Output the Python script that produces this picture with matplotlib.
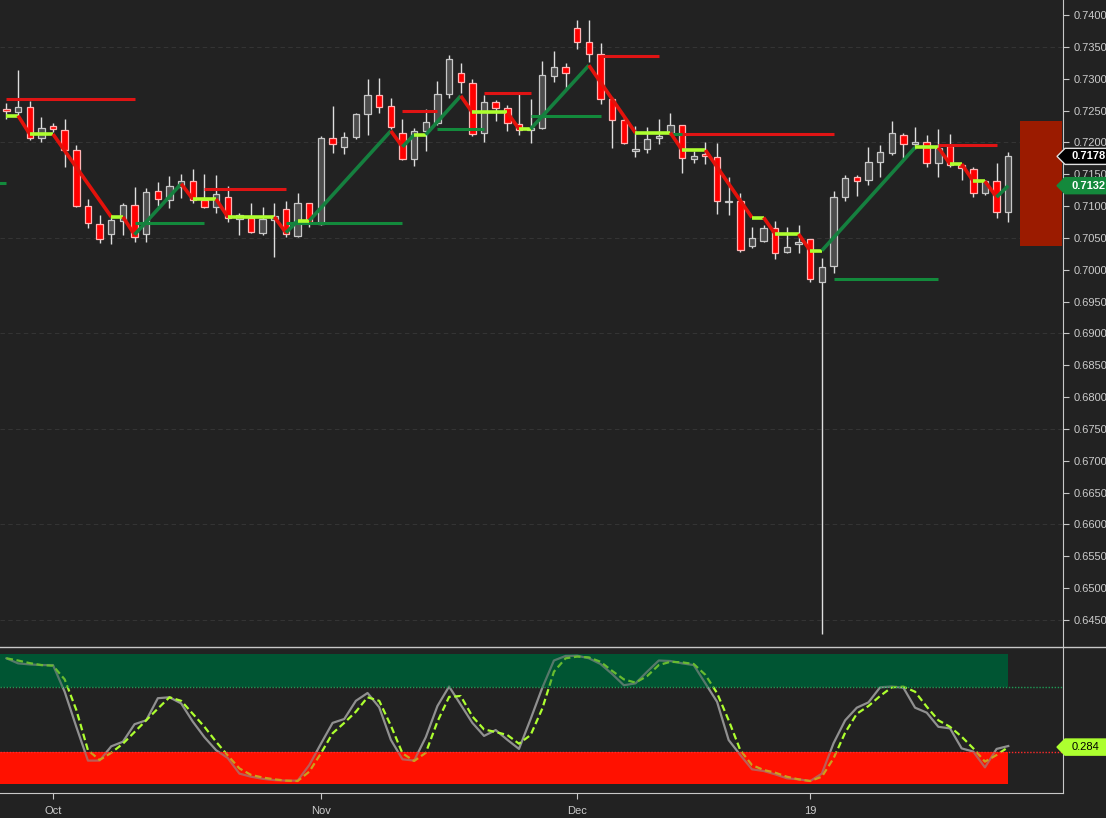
"""
Daily candles with swing levels and a stochastic pane, dark theme.
"""

import matplotlib
matplotlib.use("Agg")
import matplotlib.pyplot as plt
from matplotlib.lines import Line2D
from matplotlib.patches import Polygon, Rectangle

plt.rcParams["font.family"] = ["Liberation Sans", "DejaVu Sans"]

# trading-day index, 0 = first bar of October
bar_index = list(range(-4, 83))

opens = [
    0.7253, 0.7248, 0.7256, 0.7207,
    0.7226, 0.7220, 0.7188, 0.7100, 0.7072, 0.7056, 0.7077, 0.7102, 0.7056, 0.7124,
    0.7110, 0.7130, 0.7140, 0.7110, 0.7099, 0.7114, 0.7080, 0.7081, 0.7058, 0.7078,
    0.7096, 0.7053, 0.7105, 0.7072, 0.7207, 0.7193, 0.7209, 0.7245, 0.7275, 0.7257,
    0.7215, 0.7174, 0.7218, 0.7231, 0.7276, 0.7309, 0.7293, 0.7215, 0.7264, 0.7254,
    0.7229, 0.7220, 0.7223, 0.7304, 0.7318, 0.7380, 0.7358, 0.7339, 0.7268, 0.7235,
    0.7187, 0.7190, 0.7207, 0.7215, 0.7227, 0.7174, 0.7182, 0.7177, 0.7107, 0.7108,
    0.7038, 0.7045, 0.7066, 0.7028, 0.7041, 0.7049, 0.6981, 0.7006, 0.7114, 0.7146,
    0.7141, 0.7169, 0.7183, 0.7212, 0.7198, 0.7201, 0.7168, 0.7194, 0.7165, 0.7158,
    0.7121, 0.7139, 0.7091,
]
highs = [
    0.7262, 0.7314, 0.7265, 0.7240,
    0.7231, 0.7237, 0.7196, 0.7111, 0.7086, 0.7086, 0.7105, 0.7130, 0.7129, 0.7138,
    0.7147, 0.7150, 0.7158, 0.7150, 0.7149, 0.7132, 0.7089, 0.7105, 0.7099, 0.7105,
    0.7108, 0.7121, 0.7105, 0.7210, 0.7257, 0.7216, 0.7246, 0.7300, 0.7301, 0.7270,
    0.7237, 0.7223, 0.7253, 0.7296, 0.7337, 0.7325, 0.7300, 0.7275, 0.7267, 0.7259,
    0.7276, 0.7268, 0.7328, 0.7344, 0.7325, 0.7392, 0.7392, 0.7356, 0.7271, 0.7240,
    0.7226, 0.7224, 0.7237, 0.7246, 0.7227, 0.7187, 0.7201, 0.7199, 0.7146, 0.7121,
    0.7067, 0.7071, 0.7077, 0.7067, 0.7071, 0.7049, 0.7019, 0.7124, 0.7149, 0.7149,
    0.7193, 0.7196, 0.7234, 0.7215, 0.7224, 0.7212, 0.7221, 0.7213, 0.7166, 0.7162,
    0.7141, 0.7168, 0.7185,
]
lows = [
    0.7237, 0.7242, 0.7204, 0.7201,
    0.7216, 0.7162, 0.7099, 0.7066, 0.7042, 0.7041, 0.7055, 0.7044, 0.7044, 0.7100,
    0.7097, 0.7113, 0.7105, 0.7097, 0.7089, 0.7075, 0.7055, 0.7058, 0.7055, 0.7020,
    0.7052, 0.7052, 0.7067, 0.7071, 0.7183, 0.7182, 0.7205, 0.7212, 0.7246, 0.7221,
    0.7172, 0.7163, 0.7187, 0.7227, 0.7270, 0.7278, 0.7210, 0.7201, 0.7234, 0.7218,
    0.7212, 0.7199, 0.7221, 0.7295, 0.7284, 0.7347, 0.7326, 0.7260, 0.7191, 0.7198,
    0.7177, 0.7183, 0.7198, 0.7212, 0.7152, 0.7168, 0.7166, 0.7088, 0.7086, 0.7028,
    0.7034, 0.7044, 0.7017, 0.7027, 0.7027, 0.6981, 0.6428, 0.6995, 0.7108, 0.7116,
    0.7133, 0.7146, 0.7180, 0.7176, 0.7190, 0.7162, 0.7146, 0.7162, 0.7141, 0.7114,
    0.7118, 0.7081, 0.7075,
]
closes = [
    0.7249, 0.7256, 0.7207, 0.7223,
    0.7221, 0.7188, 0.7100, 0.7074, 0.7049, 0.7078, 0.7102, 0.7052, 0.7122, 0.7111,
    0.7132, 0.7140, 0.7110, 0.7099, 0.7119, 0.7081, 0.7086, 0.7060, 0.7080, 0.7085,
    0.7056, 0.7105, 0.7074, 0.7207, 0.7198, 0.7209, 0.7245, 0.7275, 0.7256, 0.7224,
    0.7174, 0.7218, 0.7232, 0.7276, 0.7331, 0.7295, 0.7213, 0.7264, 0.7254, 0.7231,
    0.7220, 0.7223, 0.7306, 0.7318, 0.7309, 0.7358, 0.7339, 0.7268, 0.7235, 0.7199,
    0.7190, 0.7205, 0.7210, 0.7227, 0.7176, 0.7179, 0.7179, 0.7108, 0.7108, 0.7031,
    0.7050, 0.7066, 0.7027, 0.7036, 0.7044, 0.6986, 0.7005, 0.7114, 0.7144, 0.7140,
    0.7169, 0.7185, 0.7215, 0.7198, 0.7201, 0.7168, 0.7191, 0.7165, 0.7160, 0.7121,
    0.7139, 0.7091, 0.7178,
]

# swing trend line: turning points (bar index, level)
trend_index = [-4, -3, -2, 0, 5, 6, 7, 11, 12, 14, 15, 19, 20, 21, 22, 29, 30, 31, 32,
               35, 36, 39, 40, 41, 46, 50, 53, 54, 56, 60, 61, 62, 64, 65, 66, 74, 76,
               77, 78, 79, 80, 81, 82]
trend_level = [0.7242, 0.7242, 0.7213, 0.7213, 0.7083, 0.7083, 0.7055, 0.7135, 0.7111,
               0.7111, 0.7083, 0.7083, 0.7058, 0.7077, 0.7077, 0.7218, 0.7193, 0.7212,
               0.7212, 0.7273, 0.7247, 0.7247, 0.7221, 0.7221, 0.7321, 0.7215, 0.7215,
               0.7188, 0.7188, 0.7082, 0.7082, 0.7056, 0.7056, 0.7030, 0.7030, 0.7192,
               0.7192, 0.7166, 0.7166, 0.7139, 0.7139, 0.7114, 0.7132]

# resistance / support segments: (from bar, to bar, level)
resistance = [(-4, 7, 0.7268), (13, 20, 0.7126), (30, 33, 0.7249), (37, 41, 0.7278),
              (47, 52, 0.7336), (54, 67, 0.7213), (76, 81, 0.7196)]
support = [(-6, -4, 0.7136), (7, 13, 0.7074), (20, 30, 0.7074), (33, 37, 0.7221),
           (41, 47, 0.7241), (53, 54, 0.7213), (67, 76, 0.6986)]

# projected range box on the right
box_from, box_low, box_high = 83.0, 0.7037, 0.7234

# stochastic pane
stoch_k = [0.967, 0.928, 0.92, 0.915,
           0.915, 0.71, 0.44, 0.18, 0.18, 0.29, 0.325, 0.46, 0.49, 0.66,
           0.667, 0.62, 0.48, 0.36, 0.26, 0.2, 0.08, 0.056, 0.04, 0.03,
           0.026, 0.026, 0.146, 0.31, 0.47, 0.5, 0.64, 0.70, 0.59, 0.34,
           0.19, 0.18, 0.36, 0.6, 0.75, 0.61, 0.47, 0.37, 0.415, 0.34,
           0.27, 0.5, 0.74, 0.95, 0.985, 0.987, 0.967, 0.923, 0.846, 0.76,
           0.774, 0.864, 0.95, 0.946, 0.928, 0.915, 0.774, 0.633, 0.338, 0.223,
           0.113, 0.10, 0.074, 0.044, 0.036, 0.023, 0.08, 0.313, 0.49, 0.587,
           0.628, 0.744, 0.75, 0.741, 0.587, 0.549, 0.44, 0.428, 0.274, 0.249,
           0.128, 0.27, 0.292]
stoch_d = [0.967, 0.95, 0.93, 0.915,
           0.91, 0.805, 0.57, 0.26, 0.185, 0.24, 0.31, 0.40, 0.49, 0.58,
           0.667, 0.64, 0.54, 0.44, 0.325, 0.22, 0.12, 0.07, 0.05, 0.036,
           0.026, 0.023, 0.095, 0.236, 0.39, 0.47, 0.556, 0.667, 0.64, 0.45,
           0.236, 0.177, 0.24, 0.48, 0.67, 0.677, 0.52, 0.42, 0.40, 0.377,
           0.31, 0.377, 0.58, 0.864, 0.967, 0.98, 0.974, 0.94, 0.87, 0.805,
           0.78, 0.83, 0.915, 0.94, 0.936, 0.923, 0.84, 0.70, 0.49, 0.26,
           0.146, 0.108, 0.087, 0.056, 0.036, 0.023, 0.056, 0.197, 0.395, 0.54,
           0.60, 0.677, 0.744, 0.749, 0.71, 0.595, 0.49, 0.44, 0.364, 0.274,
           0.172, 0.223, 0.284]
upper_zone, lower_zone = 0.75, 0.25

price_ticks = [round(0.645 + 0.005 * i, 4) for i in range(20)]
month_pos = [0, 23, 45, 65]
month_labels = ["Oct", "Nov", "Dec", "19"]

BG = "#222222"
FG = "#cccccc"
RED = "#e3120b"
LIME = "#adff2f"
GREEN = "#15803f"
XLIM = (-4.55, 86.7)


def price_tag(axis, value, text, face, edge, color, half, weight="normal"):
    """Draws a value tag that points at the right axis."""
    trans = axis.get_yaxis_transform()
    tip, left, right = 1057 / 1063, 1065 / 1063, 1112 / 1063
    pts = [(tip, value), (left, value + half), (right, value + half),
           (right, value - half), (left, value - half)]
    axis.add_patch(Polygon(pts, closed=True, transform=trans, facecolor=face,
                           edgecolor=edge, lw=1, clip_on=False, zorder=10))
    axis.text(1072 / 1063, value, text, transform=trans, ha="left", va="center",
              color=color, fontsize=8, fontweight=weight, clip_on=False, zorder=11)


fig = plt.figure(figsize=(11.06, 8.18), dpi=100, facecolor=BG)
ax = fig.add_axes([0, 171 / 818, 1063 / 1106, 647 / 818])
ax2 = fig.add_axes([0, 25 / 818, 1063 / 1106, 145 / 818])

for a in (ax, ax2):
    a.set_facecolor(BG)
    a.set_xlim(*XLIM)
    for side in ("left", "top", "bottom", "right"):
        a.spines[side].set_visible(False)
    a.spines["right"].set_visible(True)
    a.spines["right"].set_color("#c8c8c8")

# ---- price pane ----
ax.set_ylim(0.640754, 0.742356)
for lvl in price_ticks[::3]:
    ax.axhline(lvl, color="#343434", lw=0.8, ls=(0, (4, 3)), zorder=0)

for i, o, h, l, c in zip(bar_index, opens, highs, lows, closes):
    ax.vlines(i, l, h, color="#dedede", lw=1.0, zorder=2)
    up = c >= o
    ax.bar(i, abs(c - o), bottom=min(o, c), width=0.55,
           color="#4d4d4d" if up else "#ff0000",
           edgecolor="#c8c8c8" if up else "#ffb4b4", lw=0.9, zorder=3)

for x0, x1, lvl in resistance:
    ax.hlines(lvl, x0, x1, color="#e01414", lw=2.2, zorder=4)
for x0, x1, lvl in support:
    ax.hlines(lvl, x0, x1, color="#138a3c", lw=2.2, zorder=4)

for k in range(len(trend_index) - 1):
    v0, v1 = trend_level[k], trend_level[k + 1]
    col = LIME if v0 == v1 else (RED if v1 < v0 else GREEN)
    ax.plot(trend_index[k:k + 2], trend_level[k:k + 2], color=col, lw=2.6,
            solid_capstyle="butt", zorder=5)

ax.add_patch(Rectangle((box_from, box_low), XLIM[1] - 0.08 - box_from,
                       box_high - box_low, facecolor="#9b1b00", lw=0, zorder=2))

ax.yaxis.tick_right()
ax.set_yticks(price_ticks)
ax.set_yticklabels([f"{t:.4f}" for t in price_ticks])
ax.tick_params(axis="y", colors="#c8c8c8", labelcolor=FG, labelsize=8,
               length=4, pad=4)
ax.tick_params(axis="x", bottom=False, labelbottom=False)

price_tag(ax, closes[-1], f"{closes[-1]:.4f}", "#000000", "#e0e0e0", "#ffffff",
          0.00126, "bold")
price_tag(ax, trend_level[-1], f"{trend_level[-1]:.4f}", "#14893c", "#14893c",
          "#ffffff", 0.00126, "bold")

# ---- stochastic pane ----
ax2.set_ylim(-0.0692, 1.0462)
band_x = [XLIM[0], bar_index[-1]]


def zones(alpha, z):
    ax2.fill_between(band_x, upper_zone, 1.0, color="#005533", lw=0, alpha=alpha, zorder=z)
    ax2.fill_between(band_x, 0.0, lower_zone, color="#ff1100", lw=0, alpha=alpha, zorder=z)


zones(1.0, 1)
ax2.plot(bar_index, stoch_k, color="#909090", lw=1.6, zorder=3)
ax2.plot(bar_index, stoch_d, color=LIME, lw=1.6, ls=(0, (3, 1.6)), zorder=4)
zones(0.4, 5)
ax2.axhline(upper_zone, color="#1f9a55", lw=1.0, ls=(0, (1, 1.2)), zorder=6)
ax2.axhline(lower_zone, color="#ff2a2a", lw=1.0, ls=(0, (1, 1.2)), zorder=6)

ax2.spines["bottom"].set_visible(True)
ax2.spines["bottom"].set_color("#c8c8c8")
ax2.set_yticks([])
ax2.set_xticks(month_pos)
ax2.set_xticklabels(month_labels)
ax2.tick_params(axis="x", colors="#c8c8c8", labelcolor=FG, labelsize=8,
                length=4, pad=5)
price_tag(ax2, stoch_d[-1], f"{stoch_d[-1]:.3f}", LIME, LIME, "#000000", 0.062)

# pane separator across the full width
fig.add_artist(Line2D([0, 1], [171 / 818, 171 / 818], transform=fig.transFigure,
                      color="#c8c8c8", lw=1.0))

fig.savefig("out.png", dpi=100, facecolor=BG)
